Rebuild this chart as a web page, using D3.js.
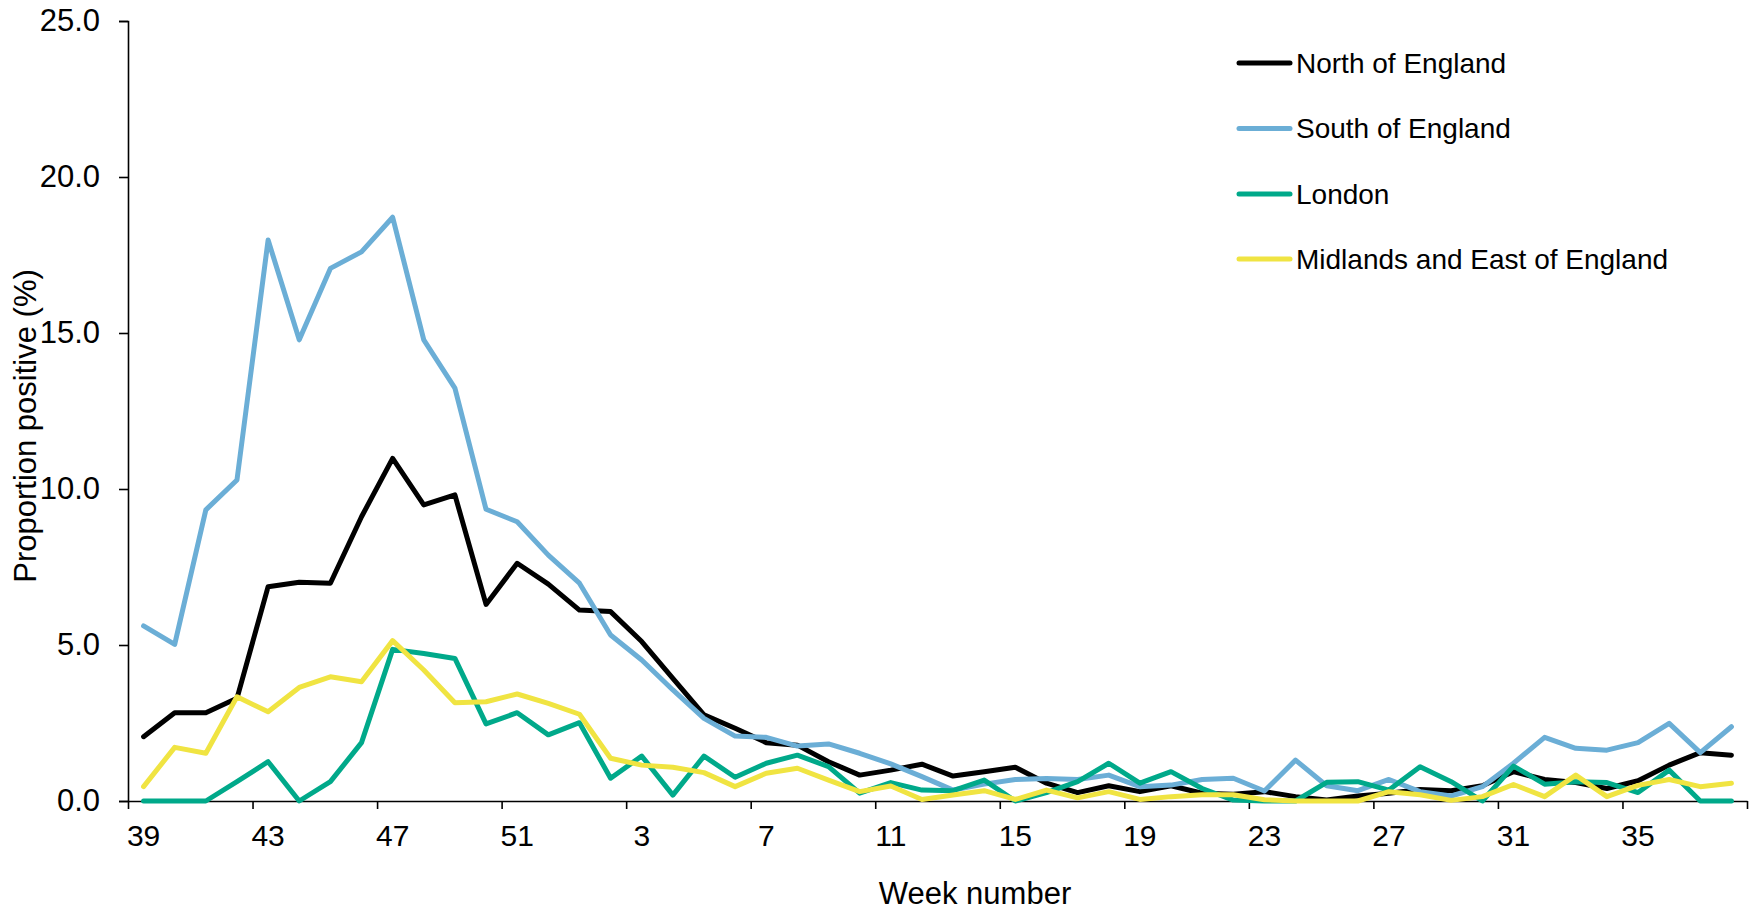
<!DOCTYPE html>
<html>
<head>
<meta charset="utf-8">
<script src="https://cdn.jsdelivr.net/npm/d3@7"></script>
<style>
  html, body { margin: 0; padding: 0; background: #ffffff; }
  svg { display: block; font-family: "Liberation Sans", Arial, sans-serif; }
</style>
</head>
<body>
<svg id="chart" width="1757" height="911"></svg>
<script>
// Week numbers, season running from week 39 to week 38 of the following year
const weeks = [39, 40, 41, 42, 43, 44, 45, 46, 47, 48, 49, 50, 51, 52,
  1, 2, 3, 4, 5, 6, 7, 8, 9, 10, 11, 12, 13, 14, 15, 16, 17, 18, 19,
  20, 21, 22, 23, 24, 25, 26, 27, 28, 29, 30, 31, 32, 33, 34, 35, 36, 37, 38];

const weekTickLabels = [39, 43, 47, 51, 3, 7, 11, 15, 19, 23, 27, 31, 35];
const yTicks = [0, 5, 10, 15, 20, 25];

// Proportion positive (%) per region
const northOfEngland = [2.06, 2.83, 2.83, 3.29, 6.87, 7.01, 6.98, 9.11, 10.98, 9.49, 9.81, 6.30, 7.62, 6.95,
  6.12, 6.07, 5.11, 3.93, 2.76, 2.33, 1.87, 1.79, 1.26, 0.83, 0.99, 1.18, 0.80, 0.94, 1.08, 0.57, 0.27, 0.49, 0.30,
  0.49, 0.25, 0.22, 0.30, 0.14, 0.03, 0.16, 0.25, 0.37, 0.33, 0.49, 0.94, 0.69, 0.59, 0.40, 0.65, 1.15, 1.55, 1.47];

const southOfEngland = [5.61, 5.02, 9.33, 10.29, 17.98, 14.78, 17.07, 17.60, 18.71, 14.78, 13.23, 9.35, 8.95, 7.88,
  6.98, 5.32, 4.52, 3.56, 2.65, 2.08, 2.04, 1.76, 1.83, 1.53, 1.19, 0.78, 0.35, 0.54, 0.69, 0.72, 0.69, 0.83, 0.46,
  0.51, 0.69, 0.73, 0.32, 1.31, 0.49, 0.33, 0.69, 0.30, 0.16, 0.46, 1.21, 2.04, 1.69, 1.63, 1.87, 2.49, 1.55, 2.38];

const london = [0, 0, 0, 0.62, 1.26, 0, 0.62, 1.87, 4.86, 4.73, 4.57, 2.47, 2.83, 2.12,
  2.51, 0.73, 1.44, 0.19, 1.44, 0.76, 1.21, 1.47, 1.10, 0.25, 0.59, 0.35, 0.33, 0.67, 0, 0.27, 0.62, 1.21, 0.57,
  0.94, 0.40, 0.03, 0, 0, 0.60, 0.62, 0.35, 1.10, 0.62, 0, 1.12, 0.54, 0.62, 0.59, 0.27, 0.99, 0, 0];

const midlandsAndEast = [0.46, 1.72, 1.53, 3.34, 2.86, 3.64, 3.98, 3.82, 5.14, 4.20, 3.15, 3.18, 3.43, 3.13,
  2.78, 1.37, 1.15, 1.08, 0.91, 0.46, 0.89, 1.05, 0.67, 0.30, 0.48, 0.05, 0.19, 0.33, 0.05, 0.35, 0.10, 0.30, 0.05,
  0.14, 0.20, 0.20, 0.04, 0, 0, 0, 0.30, 0.20, 0.02, 0.14, 0.53, 0.14, 0.83, 0.14, 0.50, 0.69, 0.46, 0.57];

const seriesNames = ["North of England", "South of England", "London", "Midlands and East of England"];
const seriesValues = [northOfEngland, southOfEngland, london, midlandsAndEast];
const seriesColors = ["#000000", "#6baed6", "#00a98a", "#f0e442"];

const svg = d3.select("#chart");

const plot = { left: 128, right: 1747, top: 21, bottom: 801 };

const x = d3.scaleBand()
  .domain(weeks)
  .range([plot.left, plot.right])
  .padding(0);
const bw = x.bandwidth();
const cx = w => x(w) + bw / 2;

// Category boundaries, used for the tick marks between weeks
const xEdge = d3.scaleLinear()
  .domain([0, weeks.length])
  .range([plot.left, plot.right]);

const y = d3.scaleLinear()
  .domain([0, 25])
  .range([plot.bottom, plot.top]);

// Y axis
const yAxis = svg.append("g")
  .attr("transform", `translate(${plot.left},0)`)
  .call(d3.axisLeft(y).tickValues(yTicks).tickFormat(d3.format(".1f")).tickSize(9).tickPadding(19));
yAxis.selectAll("text").attr("font-size", 31).attr("fill", "#000")
  .attr("font-family", "'Liberation Sans', Arial, sans-serif");
yAxis.selectAll("line, path").attr("stroke", "#000").attr("stroke-width", 1.6);

// X axis: tick marks at every fourth category boundary
const xTicks = svg.append("g")
  .attr("transform", `translate(0,${plot.bottom})`)
  .call(d3.axisBottom(xEdge).tickValues(d3.range(0, weeks.length + 1, 4)).tickFormat("").tickSize(8).tickSizeOuter(0));
xTicks.selectAll("line, path").attr("stroke", "#000").attr("stroke-width", 1.6);

// X axis labels centred on their week
const xLabels = svg.append("g")
  .attr("transform", `translate(0,${plot.bottom})`)
  .call(d3.axisBottom(x).tickValues(weekTickLabels).tickSize(0).tickPadding(24));
xLabels.select(".domain").remove();
xLabels.selectAll("text").attr("font-size", 30).attr("fill", "#000")
  .attr("font-family", "'Liberation Sans', Arial, sans-serif");

// Axis titles
svg.append("text")
  .attr("x", 975).attr("y", 904)
  .attr("text-anchor", "middle")
  .attr("font-size", 31)
  .text("Week number");

svg.append("text")
  .attr("transform", "translate(36,426) rotate(-90)")
  .attr("text-anchor", "middle")
  .attr("font-size", 31)
  .text("Proportion positive (%)");

// Lines
const line = d3.line()
  .x((d, i) => cx(weeks[i]))
  .y(d => y(d));

svg.append("g").selectAll("path")
  .data(seriesValues)
  .join("path")
  .attr("d", d => line(d))
  .attr("fill", "none")
  .attr("stroke", (d, i) => seriesColors[i])
  .attr("stroke-width", 5)
  .attr("stroke-linejoin", "round")
  .attr("stroke-linecap", "round");

// Legend
const legend = svg.append("g");
const legendRows = [63, 128.5, 194, 259];
seriesNames.forEach((name, i) => {
  const g = legend.append("g").attr("transform", `translate(0,${legendRows[i]})`);
  g.append("line")
    .attr("x1", 1239).attr("x2", 1290)
    .attr("y1", 0).attr("y2", 0)
    .attr("stroke", seriesColors[i])
    .attr("stroke-width", 5)
    .attr("stroke-linecap", "round");
  g.append("text")
    .attr("x", 1296).attr("y", 0)
    .attr("dy", "0.35em")
    .attr("font-size", 28)
    .text(name);
});
</script>
</body>
</html>
